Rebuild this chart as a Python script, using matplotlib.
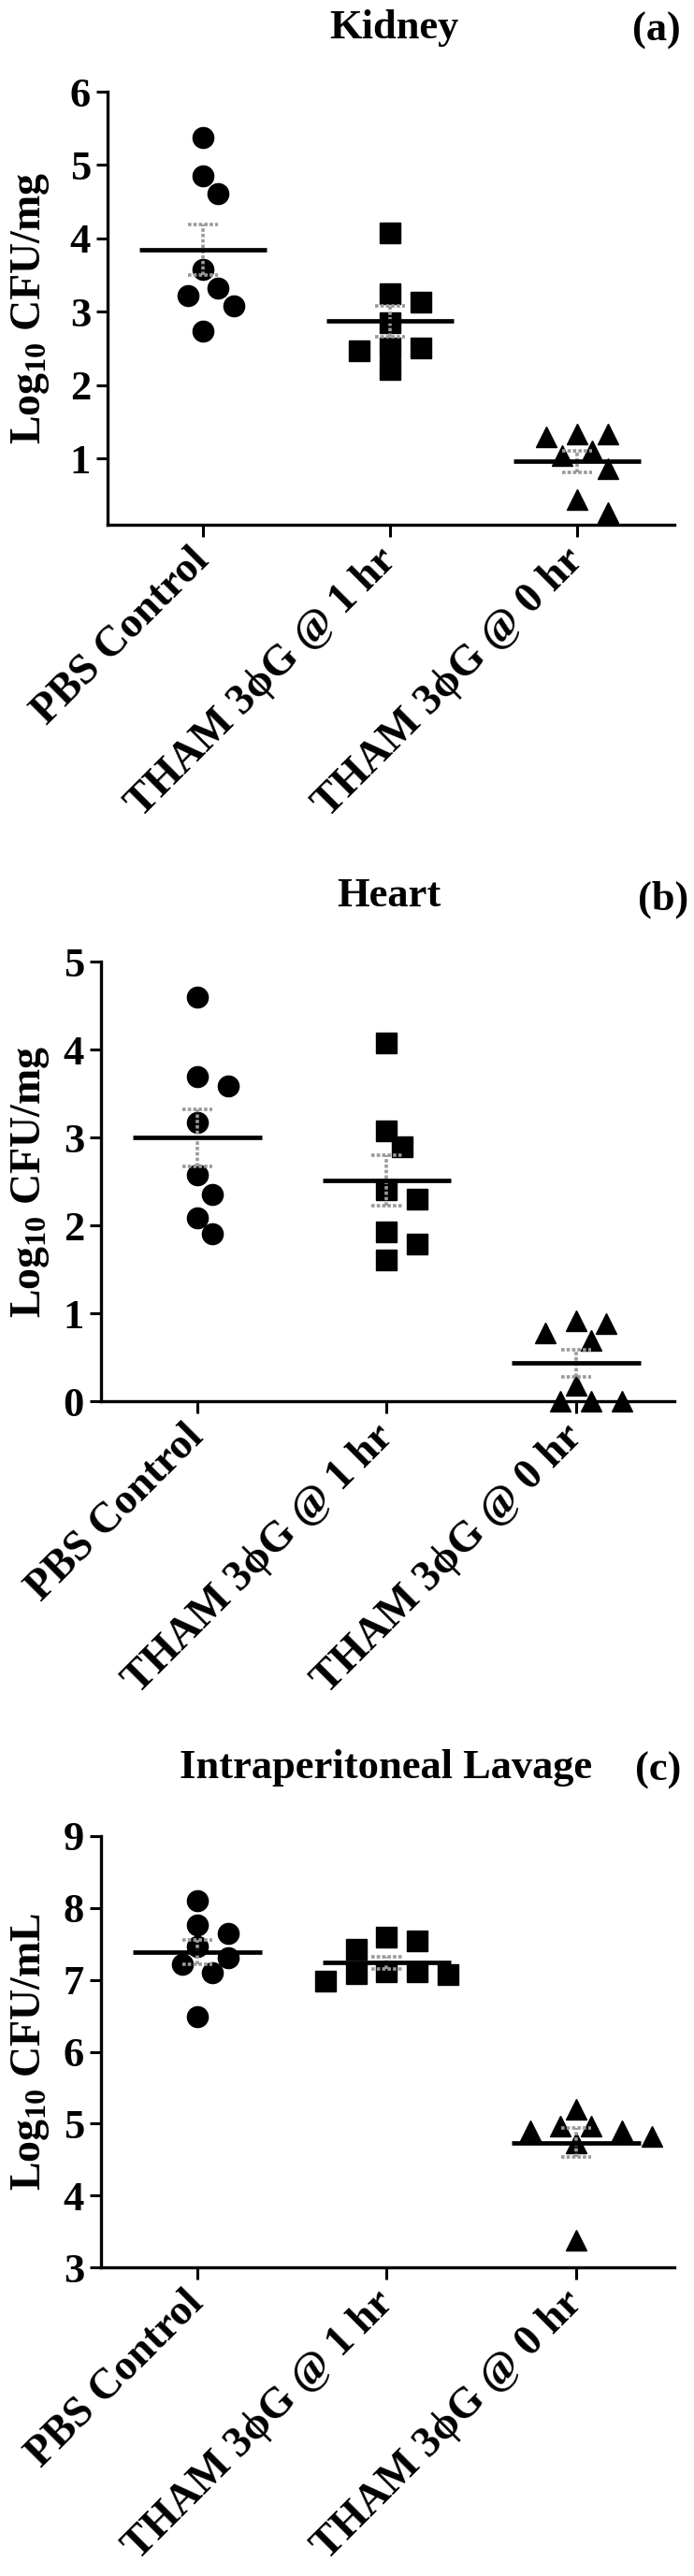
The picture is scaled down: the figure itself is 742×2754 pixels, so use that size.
import numpy as np
import matplotlib
matplotlib.use("Agg")
import matplotlib.pyplot as plt

groups = ["PBS Control", "THAM 3\u03d5G @ 1 hr", "THAM 3\u03d5G @ 0 hr"]

# Log10 CFU values (8 mice per group)
kidney_pbs = [5.37, 4.85, 4.61, 3.58, 3.33, 3.22, 3.08, 2.74]
kidney_1hr = [4.07, 3.25, 3.13, 2.85, 2.51, 2.47, 2.51, 2.22]
kidney_0hr = [1.34, 1.30, 1.34, 1.11, 1.04, 0.87, 0.45, 0.26]

heart_pbs = [4.60, 3.69, 3.59, 3.17, 2.57, 2.35, 2.09, 1.90]
heart_1hr = [4.07, 3.07, 2.89, 2.40, 2.30, 1.93, 1.79, 1.61]
heart_0hr = [0.92, 0.88, 0.78, 0.69, 0.18, 0.0, 0.0, 0.0]

lavage_pbs = [8.10, 7.77, 7.65, 7.46, 7.31, 7.22, 7.10, 6.49]
lavage_1hr = [7.59, 7.54, 7.43, 7.11, 7.11, 7.09, 7.07, 6.98]
lavage_0hr = [5.20, 4.97, 4.97, 4.90, 4.90, 4.82, 4.73, 3.38]

titles = ["Kidney", "Heart", "Intraperitoneal Lavage"]
tags = ["(a)", "(b)", "(c)"]
ylabels = ["Log$_{10}$ CFU/mg", "Log$_{10}$ CFU/mg", "Log$_{10}$ CFU/mL"]
yranges = [(0.1, 6), (0, 5), (3, 9)]
yticks = [[1, 2, 3, 4, 5, 6], [0, 1, 2, 3, 4, 5], [3, 4, 5, 6, 7, 8, 9]]

plt.rcParams['font.family'] = ['Liberation Serif', 'DejaVu Serif']
plt.rcParams['font.weight'] = 'bold'
plt.rcParams['mathtext.fontset'] = 'custom'
plt.rcParams['mathtext.rm'] = 'Liberation Serif:bold'
plt.rcParams['mathtext.it'] = 'Liberation Serif:bold'
plt.rcParams['mathtext.bf'] = 'Liberation Serif:bold'

W, H = 742, 2754
fig = plt.figure(figsize=(W / 100, H / 100), dpi=100)

# axes boxes in pixels: left, right, top, bottom
boxes = [(115, 721, 98, 561), (108, 721, 1028, 1498), (108, 721, 1963, 2424)]
title_pos = [(421, 30), (416, 958), (413, 1890)]
tag_pos = [(702, 33), (709, 962), (704, 1893)]

markers = ["o", "s", "^"]
msize = 16


def swarm(ypix, d, step):
    # simple beeswarm: place each point at the nearest free slot
    order = np.argsort(ypix)[::-1]
    placed = []
    offs = np.zeros(len(ypix))
    for i in order:
        x = 0
        for k in [0, 1, -1, 2, -2, 3, -3, 4, -4, 5, -5]:
            x = k * step
            if all((x - px) ** 2 + (ypix[i] - py) ** 2 >= d * d for px, py in placed):
                break
        offs[i] = x
        placed.append((x, ypix[i]))
    return offs


data = [[kidney_pbs, kidney_1hr, kidney_0hr],
        [heart_pbs, heart_1hr, heart_0hr],
        [lavage_pbs, lavage_1hr, lavage_0hr]]

for p in range(3):
    l, r, t, b = boxes[p]
    ax = fig.add_axes([l / W, 1 - b / H, (r - l) / W, (b - t) / H])
    ax.set_xlim(-0.51, 2.52)
    ax.set_ylim(*yranges[p])
    for s in ["top", "right"]:
        ax.spines[s].set_visible(False)
    for s in ["left", "bottom"]:
        ax.spines[s].set_linewidth(2.4)
    ax.set_yticks(yticks[p])
    ax.set_xticks([0, 1, 2])
    ax.set_xticklabels(groups, rotation=45, ha="right", va="center",
                       rotation_mode="anchor", fontsize=33, fontweight="bold")
    ax.tick_params(axis="y", length=9, width=2.2, labelsize=32, pad=4)
    ax.tick_params(axis="x", length=9, width=2.2, pad=14)

    px_per_x = ax.transData.transform((1, 0))[0] - ax.transData.transform((0, 0))[0]
    d = msize * 100 / 72 * 1.02
    for g in range(3):
        vals = np.array(data[p][g])
        ypix = ax.transData.transform(np.column_stack([np.zeros(len(vals)), vals]))[:, 1]
        offs = swarm(ypix, d, d * 0.72) / px_per_x
        ax.plot(g + offs, vals, linestyle="none", marker=markers[g], ms=msize,
                color="black", clip_on=False, zorder=2)
        m = vals.mean()
        sem = vals.std(ddof=1) / np.sqrt(len(vals))
        ax.vlines(g, m - sem, m + sem, color="#9a9a9a", lw=2.6, linestyles=(0, (1, 0.6)), zorder=3)
        ax.hlines([m - sem, m + sem], g - 0.08, g + 0.08, color="#9a9a9a", lw=2.6,
                  linestyles=(0, (1, 0.6)), zorder=3)
        ax.hlines(m, g - 0.34, g + 0.34, color="black", lw=3.4, zorder=4)

    fig.text(title_pos[p][0] / W, 1 - title_pos[p][1] / H, titles[p], ha="center", va="center",
             fontsize=32, fontweight="bold")
    fig.text(tag_pos[p][0] / W, 1 - tag_pos[p][1] / H, tags[p], ha="center", va="center",
             fontsize=32, fontweight="bold")
    fig.text(33 / W, 1 - (t + b) / 2 / H, ylabels[p], rotation=90, ha="center", va="center",
             fontsize=33, fontweight="bold")

fig.savefig("out.png", dpi=100, facecolor="white")
